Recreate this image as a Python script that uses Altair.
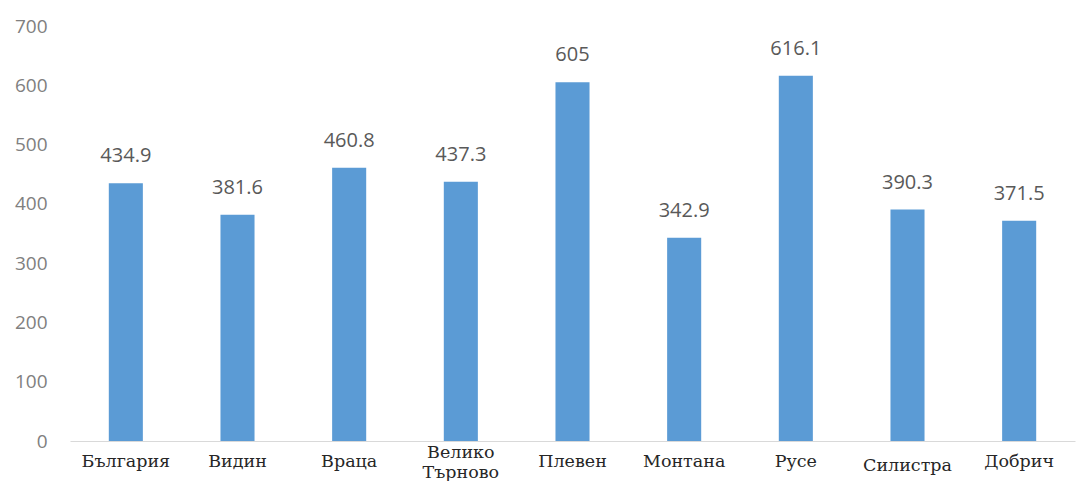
import altair as alt
import pandas as pd

categories = ["България", "Видин", "Враца", "Велико Търново", "Плевен",
              "Монтана", "Русе", "Силистра", "Добрич"]
values = [434.9, 381.6, 460.8, 437.3, 605, 342.9, 616.1, 390.3, 371.5]
y_ticks = [0, 100, 200, 300, 400, 500, 600, 700]

df = pd.DataFrame({"region": categories, "value": values})
df["label"] = df["value"].map(lambda v: f"{v:g}")

x = alt.X(
    "region:N",
    sort=categories,
    title=None,
    scale=alt.Scale(paddingInner=0.695, paddingOuter=0.3475),
    axis=alt.Axis(
        labelAngle=0,
        labelFont="DejaVu Serif",
        labelFontSize=17.5,
        labelColor="#262626",
        labelBaseline="middle",
        labelPadding={
            "condition": [
                {"test": "datum.value == 'Велико Търново'", "value": 11},
                {"test": "datum.value == 'Силистра'", "value": 24},
            ],
            "value": 20,
        },
        labelLineHeight=20,
        labelExpr="split(datum.label, ' ')",
        ticks=False,
        domainColor="#D9D9D9",
        domainWidth=1,
        grid=False,
    ),
)

y = alt.Y(
    "value:Q",
    title=None,
    scale=alt.Scale(domain=[0, 700], nice=False, zero=True),
    axis=alt.Axis(
        values=y_ticks,
        labelFont="Open Sans",
        labelFontSize=19,
        labelColor="#808080",
        labelPadding=23,
        ticks=False,
        domain=False,
        grid=False,
    ),
)

bars = alt.Chart(df).mark_bar(color="#5B9BD5").encode(x=x, y=y)

text = alt.Chart(df).mark_text(
    font="Open Sans",
    fontSize=20,
    color="#595959",
    baseline="alphabetic",
    dy=-21,
).encode(x=alt.X("region:N", sort=categories), y="value:Q", text="label:N")

chart = (
    alt.layer(bars, text)
    .properties(
        width=1005,
        height=415,
        autosize=alt.AutoSizeParams(type="none"),
        padding={"left": 62, "top": 18, "right": 4, "bottom": 40},
    )
    .configure(background="white")
    .configure_view(stroke="transparent", strokeWidth=0)
)

chart.save("out.html", embed_options={"renderer": "svg", "actions": False})
